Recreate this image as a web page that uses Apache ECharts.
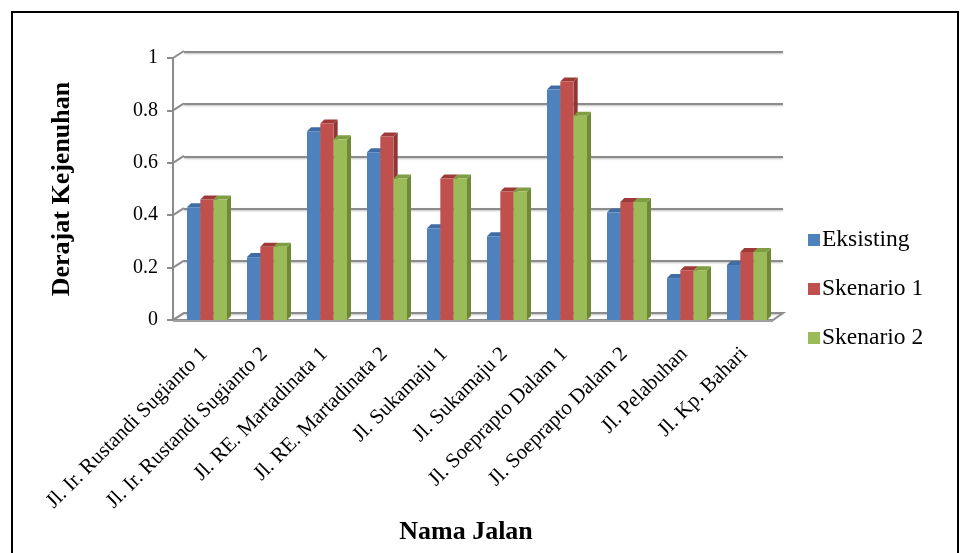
<!DOCTYPE html>
<html>
<head>
<meta charset="utf-8">
<script src="https://cdn.jsdelivr.net/npm/echarts@6/dist/echarts.min.js"></script>
<style>
html,body{margin:0;padding:0;background:#fff;}
#c{width:963px;height:553px;}
#frame{position:absolute;left:11px;top:11px;width:944px;height:560px;border:2px solid #000;pointer-events:none;}
</style>
</head>
<body>
<div id="c"></div>
<div id="frame"></div>
<script>
const categories = ['Jl. Ir. Rustandi Sugianto 1','Jl. Ir. Rustandi Sugianto 2','Jl. RE. Martadinata 1','Jl. RE. Martadinata 2','Jl. Sukamaju 1','Jl. Sukamaju 2','Jl. Soeprapto Dalam 1','Jl. Soeprapto Dalam 2','Jl. Pelabuhan','Jl. Kp. Bahari'];
const eksisting = [0.43,0.24,0.72,0.64,0.35,0.32,0.88,0.41,0.16,0.21];
const skenario1 = [0.46,0.28,0.75,0.70,0.54,0.49,0.91,0.45,0.19,0.26];
const skenario2 = [0.46,0.28,0.69,0.54,0.54,0.49,0.78,0.45,0.19,0.26];
const yTicks = [0,0.2,0.4,0.6,0.8,1];
const seriesNames = ['Eksisting','Skenario 1','Skenario 2'];

const FONT = 'Liberation Serif';
const faces = [
  {front:'#4F81BD', side:'#385D8A', top:'#3F6CA3'},
  {front:'#C0504D', side:'#8C3836', top:'#9E3B39'},
  {front:'#9BBB59', side:'#6E8A37', top:'#7F9E42'}
];
const DX = 4, DY = 4;

function barRender(k){
  return function(params, api){
    const ci = api.value(0), v = api.value(1);
    const base = api.coord([ci, 0]);
    const top = api.coord([ci, v]);
    const band = api.size([1, 0])[0];
    const bw = band * 2 / 9;
    const x0 = base[0] + (k - 1.5) * bw;
    const x1 = x0 + bw;
    const yt = top[1], yb = base[1];
    const f = faces[k];
    return {type:'group', children:[
      {type:'polygon', shape:{points:[[x1,yt],[x1+DX,yt-DY],[x1+DX,yb-DY],[x1,yb]]}, style:{fill:f.side}},
      {type:'polygon', shape:{points:[[x0,yt],[x0+DX,yt-DY],[x1+DX,yt-DY],[x1,yt]]}, style:{fill:f.top}},
      {type:'rect', shape:{x:x0, y:yt, width:bw, height:yb-yt}, style:{fill:f.front}}
    ]};
  };
}

function frameRender(params, api){
  const cs = params.coordSys;
  const v = api.value(0);
  const p = api.coord([0, v]);
  const xl = cs.x - 4;
  const children = [
    {type:'line', shape:{x1:xl, y1:p[1], x2:xl+11, y2:p[1]-7}, style:{stroke:'#8c8c8c', lineWidth:2}}
  ];
  if (v === 0) {
    const xr = cs.x + cs.width - 4;
    children.push({type:'polygon', shape:{points:[[xl,p[1]],[xl+11,p[1]-7],[xr+10,p[1]-7],[xr,p[1]]]}, style:{fill:'none', stroke:'#8c8c8c', lineWidth:2}});
    children.push({type:'line', shape:{x1:xl, y1:p[1]+1, x2:xr, y2:p[1]+1}, style:{stroke:'#a0a0a0', lineWidth:2}});
  }
  return {type:'group', children};
}

const chart = echarts.init(document.getElementById('c'));
const allSeries = [eksisting, skenario1, skenario2].map((arr, k) => ({
  type:'custom', name:seriesNames[k], xAxisIndex:0, yAxisIndex:0,
  itemStyle:{color:faces[k].front},
  encode:{x:0, y:1},
  renderItem: barRender(k),
  data: arr.map((v, i) => [i, v]),
  z: 5
}));
allSeries.unshift({
  type:'custom', name:'frame', xAxisIndex:0, yAxisIndex:0, silent:true,
  encode:{y:0},
  renderItem: frameRender,
  data: yTicks.map(t => [t]),
  z: 2
});
chart.setOption({
  animation:false,
  legend:{
    orient:'vertical', left:803, top:223,
    data:seriesNames, icon:'rect', itemWidth:12, itemHeight:12, itemGap:25,
    textStyle:{fontFamily:FONT, fontSize:23.5, color:'#000', padding:[0,0,0,-3]}
  },
  grid:[
    {left:177, right:186, top:58, bottom:233},
    {left:184, right:180, top:52, bottom:240}
  ],
  xAxis:[
    {type:'category', gridIndex:0, data:categories,
     axisLine:{show:false}, axisTick:{show:false},
     axisLabel:{rotate:45, interval:0, margin:28, fontFamily:FONT, fontSize:21, color:'#000', padding:[0,4,0,0]},
     name:'Nama Jalan', nameLocation:'middle', nameGap:199,
     nameTextStyle:{fontFamily:FONT, fontSize:26, fontWeight:'bold', color:'#000', padding:[0,22,0,0]}
    },
    {type:'category', gridIndex:1, data:categories, show:false}
  ],
  yAxis:[
    {type:'value', gridIndex:0, min:0, max:1, interval:0.2, offset:4,
     axisLine:{show:true, lineStyle:{color:'#8c8c8c', width:2}},
     axisTick:{show:true, length:6, lineStyle:{color:'#8c8c8c', width:2}},
     splitLine:{show:false},
     axisLabel:{fontFamily:FONT, fontSize:20, color:'#000', margin:15, formatter: v => String(+v.toFixed(1))},
     name:'Derajat Kejenuhan', nameLocation:'middle', nameGap:98,
     nameTextStyle:{fontFamily:FONT, fontSize:26, fontWeight:'bold', color:'#000'}
    },
    {type:'value', gridIndex:1, min:0, max:1, interval:0.2,
     axisLine:{show:false}, axisTick:{show:false}, axisLabel:{show:false},
     splitLine:{show:true, lineStyle:{color:'#8c8c8c', width:2, shadowColor:'rgba(0,0,0,0.25)', shadowBlur:2, shadowOffsetY:1}}
    }
  ],
  series: allSeries
});
</script>
</body>
</html>
